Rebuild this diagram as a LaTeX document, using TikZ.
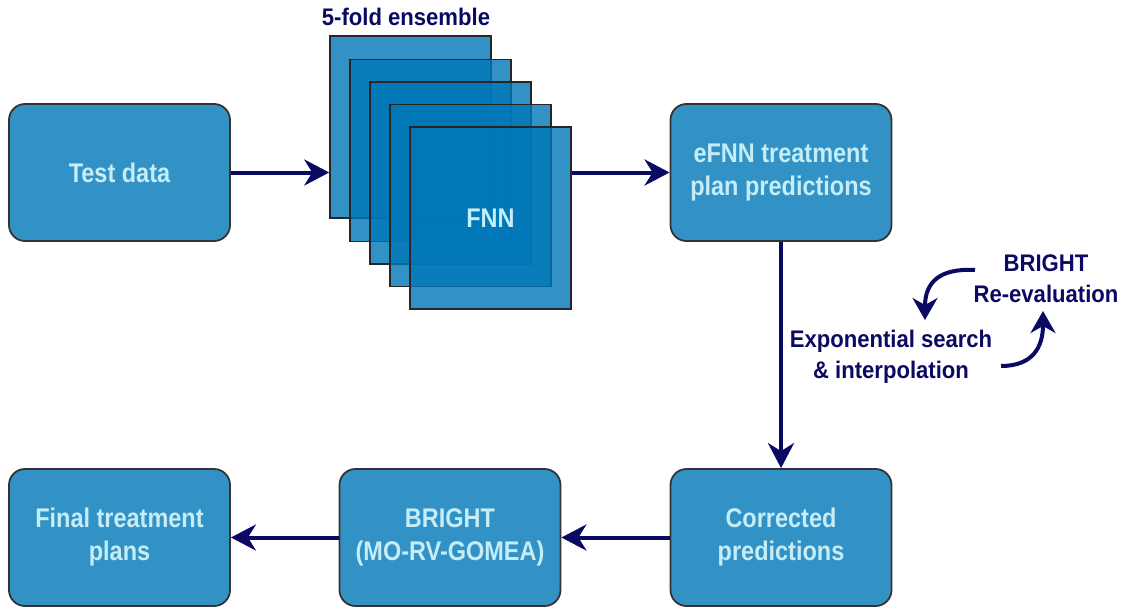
\documentclass[tikz,border=0pt]{standalone}
\usepackage{fontspec}
\setmainfont{Liberation Sans}[FakeStretch=0.92]
\newfontfamily\boxfont{Liberation Sans}[FakeStretch=0.87]
\usetikzlibrary{arrows.meta}
\definecolor{boxfill}{HTML}{3392C5}
\definecolor{boxtext}{HTML}{C4EDF7}
\definecolor{navy}{HTML}{0A0A62}
\definecolor{sqfill}{HTML}{0077B7}
\definecolor{edgegray}{HTML}{333333}
\begin{document}
\begin{tikzpicture}[x=1pt,y=-1pt,
  box/.style={draw=edgegray, line width=1.8pt, fill=boxfill, rounded corners=16pt,
    minimum width=221pt, minimum height=137pt, inner sep=0pt, text=boxtext,
    font=\boxfont\fontsize{27}{33}\selectfont\bfseries, align=center},
  sq/.style={draw=black!85, line width=1.5pt, fill=sqfill, fill opacity=0.8,
    text opacity=1, minimum width=161pt, minimum height=182pt, inner sep=0pt,
    text=boxtext, font=\boxfont\fontsize{27}{33}\selectfont\bfseries},
  conn/.style={draw=navy, line width=4pt, -{Stealth[length=25pt,width=26pt,inset=8pt]}},
  curv/.style={draw=navy, line width=4pt, -{Stealth[length=22pt,width=25pt,inset=7pt]}},
  lbl/.style={text=navy, inner sep=0pt, font=\fontsize{24}{31}\selectfont\bfseries, align=center}]
\useasboundingbox (0,0) rectangle (1129,607);

% boxes
\node[box] (test) at (119.5,172.5) {Test data};
\node[box] (efnn) at (781,172.5) {eFNN treatment\\plan predictions};
\node[box] (corr) at (781,537.5) {Corrected\\predictions};
\node[box] (bright) at (450,537.5) {BRIGHT\\(MO-RV-GOMEA)};
\node[box] (final) at (119.5,537.5) {Final treatment\\plans};

% ensemble squares
\node[sq] (sq1) at (410.5,127) {};
\node[sq] (sq2) at (430.5,150.5) {};
\node[sq] (sq3) at (450.5,173) {};
\node[sq] (sq4) at (470.5,195.5) {};
\node[sq] (sq5) at (490.5,218) {FNN};

% labels
\node[lbl] (ens) at (406,17) {5-fold ensemble};
\node[lbl] (exp) at (891,357) {Exponential search\\\& interpolation};
\node[lbl] (reval) at (1046,279) {BRIGHT\\Re-evaluation};

% connectors
\draw[conn] (test.east) -- (test.east -| sq1.west);
\draw[conn] (efnn.west -| sq5.east) -- (efnn.west);
\draw[conn] (efnn.south) -- (corr.north);
\draw[conn] (corr.west) -- (bright.east);
\draw[conn] (bright.west) -- (final.east);

% curved arrows
\coordinate (c1s) at (975,270);
\coordinate (c1e) at (925,320);
\coordinate (c2s) at (1001,366);
\coordinate (c2e) at (1043,311);
\draw[curv] (c1s) .. controls (940,268) and (925,282) .. (c1e);
\draw[curv] (c2s) .. controls (1032,366) and (1043,348) .. (c2e);
\end{tikzpicture}
\end{document}
